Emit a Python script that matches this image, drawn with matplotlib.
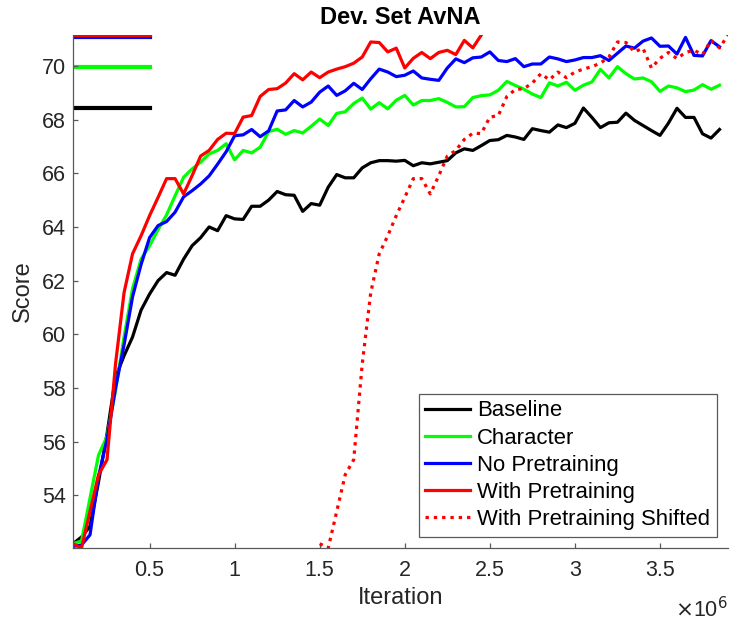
import matplotlib
matplotlib.use("Agg")
import matplotlib.pyplot as plt
import numpy as np
from matplotlib.ticker import FuncFormatter

plt.rcParams["font.family"] = ["Liberation Sans", "DejaVu Sans"]

# ========= data =========
STEP = 50000          # evaluation interval [iterations]
SHIFT = 1450000       # shift applied to the pretraining curve

baseline = [
    52.2, 52.45, 52.85, 54.5, 56.3, 58.4, 59.2, 59.9, 60.9, 61.5,
    62.0, 62.3, 62.2, 62.8, 63.3, 63.6, 64.0, 63.86, 64.42, 64.3,
    64.28, 64.77, 64.77, 65.0, 65.32, 65.2, 65.18, 64.58, 64.87, 64.81,
    65.48, 65.95, 65.83, 65.83, 66.2, 66.39, 66.47, 66.47, 66.45, 66.48,
    66.28, 66.39, 66.35, 66.41, 66.47, 66.76, 66.91, 66.85, 67.03, 67.22,
    67.25, 67.41, 67.35, 67.26, 67.66, 67.59, 67.53, 67.8, 67.7, 67.86,
    68.43, 68.08, 67.7, 67.88, 67.9, 68.24, 67.97, 67.78, 67.59, 67.41,
    67.87, 68.42, 68.08, 68.08, 67.47, 67.31, 67.63,
]
character = [
    52.2, 52.3, 53.9, 55.5, 56.2, 57.9, 59.9, 61.7, 62.8, 63.3,
    63.9, 64.45, 65.16, 65.85, 66.16, 66.41, 66.72, 66.85, 67.1, 66.5,
    66.85, 66.76, 66.97, 67.55, 67.64, 67.45, 67.59, 67.5, 67.75, 68.02,
    67.78, 68.23, 68.29, 68.6, 68.8, 68.39, 68.63, 68.4, 68.72, 68.9,
    68.54, 68.71, 68.71, 68.78, 68.64, 68.47, 68.48, 68.82, 68.89, 68.92,
    69.09, 69.42, 69.27, 69.13, 68.95, 68.82, 69.37, 69.25, 69.39, 69.09,
    69.28, 69.4, 69.87, 69.55, 69.97, 69.71, 69.51, 69.55, 69.41, 69.05,
    69.25, 69.18, 69.04, 69.1, 69.3, 69.13, 69.28,
]
no_pretraining = [
    52.1, 52.15, 52.53, 54.7, 56.1, 58.0, 59.6, 61.4, 62.6, 63.6,
    64.05, 64.2, 64.55, 65.12, 65.35, 65.6, 65.9, 66.34, 66.8, 67.4,
    67.43, 67.63, 67.36, 67.58, 68.32, 68.36, 68.71, 68.47, 68.65, 69.02,
    69.25, 68.9, 69.07, 69.35, 69.12, 69.52, 69.88, 69.77, 69.6, 69.65,
    69.81, 69.55, 69.5, 69.46, 69.92, 70.26, 70.12, 70.3, 70.33, 70.52,
    70.2, 70.16, 70.27, 69.97, 70.07, 70.07, 70.33, 70.26, 70.16, 70.22,
    70.31, 70.31, 70.38, 70.2, 70.47, 70.74, 70.66, 70.92, 71.04, 70.73,
    70.74, 70.44, 71.06, 70.39, 70.37, 70.94, 70.71,
]
with_pretraining = [
    52.2, 52.04, 53.4, 54.77, 55.33, 58.9, 61.55, 63.0, 63.67, 64.42,
    65.1, 65.8, 65.8, 65.23, 65.91, 66.64, 66.85, 67.26, 67.49, 67.48,
    68.09, 68.15, 68.86, 69.12, 69.15, 69.36, 69.71, 69.48, 69.77, 69.56,
    69.77, 69.88, 69.97, 70.1, 70.33, 70.89, 70.87, 70.52, 70.66, 69.92,
    70.28, 70.5, 70.27, 70.5, 70.58, 70.42, 70.95, 70.67, 71.15,
]

x_ticks = [0.5e6, 1.0e6, 1.5e6, 2.0e6, 2.5e6, 3.0e6, 3.5e6]
y_ticks = [54, 56, 58, 60, 62, 64, 66, 68, 70]

iters = np.arange(1, len(baseline) + 1) * STEP
iters_pre = np.arange(1, len(with_pretraining) + 1) * STEP

series = [
    ("Baseline", baseline, iters, "k"),
    ("Character", character, iters, (0, 1, 0)),
    ("No Pretraining", no_pretraining, iters, (0, 0, 1)),
    ("With Pretraining", with_pretraining, iters_pre, (1, 0, 0)),
]

fig = plt.figure(figsize=(7.3, 6.25), dpi=100)
ax = fig.add_axes([0.1, 0.1232, 0.8973, 0.8208])

LW = 2.3
for name, vals, xs, col in series:
    ax.plot(xs, vals, color=col, lw=LW, label=name)
ax.plot(iters_pre + SHIFT, with_pretraining, color=(1, 0, 0), lw=LW,
        linestyle=(0, (1.05, 1.55)), dash_capstyle="butt",
        label="With Pretraining Shifted")

# best score markers on the left
for name, vals, xs, col in series:
    best = max(vals)
    ax.plot([0, 0.5e6], [best, best], color=col, lw=3.0, zorder=1)

all_vals = baseline + character + no_pretraining + with_pretraining
ax.set_xlim(STEP, iters_pre[-1] + SHIFT)
ax.set_ylim(min(all_vals), max(all_vals))

ax.set_xticks(x_ticks)
ax.set_yticks(y_ticks)
ax.xaxis.set_major_formatter(FuncFormatter(lambda v, p: f"{v / 1e6:g}"))

for s in ["top", "right"]:
    ax.spines[s].set_visible(False)
for s in ["left", "bottom"]:
    ax.spines[s].set_color("0.35")
    ax.spines[s].set_linewidth(0.9)

ax.tick_params(direction="in", length=3.6, width=0.9, color="0.35",
               labelsize=15.5, labelcolor="#262626")
ax.tick_params(axis="x", pad=9)
ax.tick_params(axis="y", pad=5)

ax.set_xlabel("Iteration", fontsize=17, color="#262626", labelpad=4)
ax.set_ylabel("Score", fontsize=17, color="#262626", labelpad=6)
ax.set_title("Dev. Set AvNA", fontsize=17, fontweight="bold", pad=8)

ax.text(1.0, -0.1345, r"$\times$10$^{6}$", transform=ax.transAxes,
        ha="right", va="baseline", fontsize=15.5, color="#262626")

leg = ax.legend(loc="lower right", bbox_to_anchor=(0.983, 0.022),
                borderaxespad=0, fontsize=15.9, frameon=True, fancybox=False,
                handlelength=2.0, handletextpad=0.35, labelspacing=0.28,
                borderpad=0.3)
leg.get_frame().set_edgecolor("0.35")
leg.get_frame().set_linewidth(0.9)
leg.get_frame().set_alpha(1)
for t in leg.get_texts():
    t.set_color("black")

fig.savefig("out.png", dpi=100)
